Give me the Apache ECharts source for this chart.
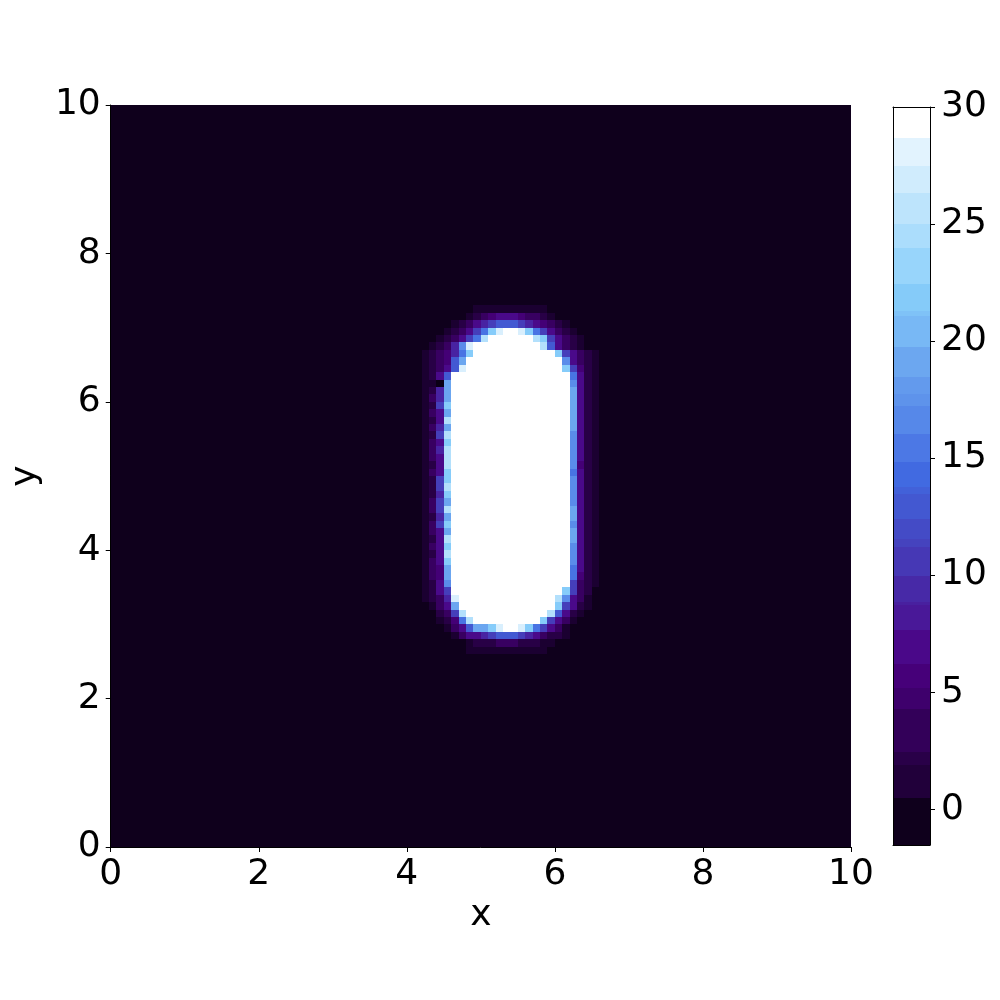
<!DOCTYPE html>
<html lang="en">
<head>
<meta charset="UTF-8">
<title>field</title>
<script src="https://cdn.jsdelivr.net/npm/echarts@6/dist/echarts.min.js"></script>
<style>
html, body { margin: 0; padding: 0; background: #fff; }
#main { width: 1000px; height: 1000px; }
</style>
</head>
<body>
<div id="main"></div>
<script type="text/javascript">
// field is 100 x 100 cells of 0.1 on [0,10] x [0,10]
var nCols = 100;
var nRows = 100;
var cellSize = 0.1;
var bgCode = '.';
// code letters used in shapeRows and the value each one stands for
var levelCodes = ['0', '.', '1', '2', '3', '4', '5', '6', '7', '8', '9', 'a', 'b', 'c', 'd', 'e', 'w'];
var levelValues = [-1.5, -1, 0.5, 2, 4, 5.5, 7, 9, 11, 13, 15, 17, 19, 22, 25, 27.5, 30];
// rows counted from the top (row 26 .. 73), columns 41 .. 67; everything else is background
var firstRow = 26;
var firstCol = 41;
var shapeRows = [
	"...........................",
	"........1111111111.........",
	".......123455543321........",
	".....1235678887654321......",
	"....123579cewwec975321.....",
	"...123579dwwwwwwdc75321....",
	"..1236aewwwwwwwwwd85321....",
	".123469cwwwwwwwwwwwc75321..",
	".12348bwwwwwwwwwwwwwa5321..",
	".12358ewwwwwwwwwwwwwc7421..",
	".1258wwwwwwwwwwwwwwww9521..",
	".110bwwwwwwwwwwwwwwwwa521..",
	".126bwwwwwwwwwwwwwwwwb521..",
	".136bwwwwwwwwwwwwwwwwb521..",
	".127cwwwwwwwwwwwwwwwwb521..",
	".135bwwwwwwwwwwwwwwwwb521..",
	".125dwwwwwwwwwwwwwwwwb521..",
	".136bwwwwwwwwwwwwwwwwb521..",
	".127dwwwwwwwwwwwwwwwwa521..",
	".135cwwwwwwwwwwwwwwwwa521..",
	".136dwwwwwwwwwwwwwwwwa521..",
	".135dwwwwwwwwwwwwwwwwa521..",
	".125dwwwwwwwwwwwwwwwwa421..",
	".135cwwwwwwwwwwwwwwww9521..",
	".127cwwwwwwwwwwwwwwwwa521..",
	".127dwwwwwwwwwwwwwwwwa521..",
	".126cwwwwwwwwwwwwwwwwa521..",
	".137bwwwwwwwwwwwwwwwwa521..",
	".137dwwwwwwwwwwwwwwwwb521..",
	".126bwwwwwwwwwwwwwwwwb521..",
	".137cwwwwwwwwwwwwwwwwa521..",
	".135bwwwwwwwwwwwwwwwwb521..",
	".125dwwwwwwwwwwwwwwwwb521..",
	".135cwwwwwwwwwwwwwwwwa521..",
	".125dwwwwwwwwwwwwwwwwa521..",
	".135cwwwwwwwwwwwwwwwwa521..",
	".134bwwwwwwwwwwwwwwww9521..",
	".134bwwwwwwwwwwwwwwww9421..",
	".125awwwwwwwwwwwwwwww7321..",
	".1257wwwwwwwwwwwwwwwc732...",
	".1236ewwwwwwwwwwwwwda531...",
	"..135bwwwwwwwwwwwwwc7521...",
	"...237dwwwwwwwwwwwd8521....",
	"...1249dwwwwwwwwwc7531.....",
	"....1358bbcewwec97531......",
	".....1355678887653221......",
	".......122233322211........",
	".......11111111111........."
];
// colour bar: range and the band edges seen on it
var barMin = -1.53;
var barMax = 30;
var barTicks = [0, 5, 10, 15, 20, 25, 30];
var barEdges = [-1.53, 0.47, 1.89, 2.45, 4.30, 5.16, 6.22, 7.65, 8.71, 8.85, 9.98, 11.19, 11.55, 12.40,
	13.46, 13.75, 14.83, 16.04, 17.24, 17.74, 18.45, 19.73, 21.08, 21.29, 22.43, 23.99, 24.99,
	26.34, 27.47, 28.68, 30];
var colorStops = ['#0b0015', '#4b0082', '#4169e1', '#87cefa', '#ffffff'];

// cells [x0, y0, value]
var cells = [];
for (var r = 0; r < nRows; r++) {
	for (var c = 0; c < nCols; c++) {
		var code = bgCode;
		var sr = r - firstRow, sc = c - firstCol;
		if (sr >= 0 && sr < shapeRows.length && sc >= 0 && sc < shapeRows[sr].length) {
			code = shapeRows[sr].charAt(sc);
		}
		cells.push([c * cellSize, (nRows - 1 - r) * cellSize, levelValues[levelCodes.indexOf(code)]]);
	}
}
// bands [lo, hi, value used for the colour]; end bands take the end colour
var bands = [];
for (var i = 0; i < barEdges.length - 1; i++) {
	var lo = barEdges[i], hi = barEdges[i + 1];
	var v = (lo + hi) / 2;
	if (i === 0) v = -1;
	if (i === barEdges.length - 2) v = hi;
	bands.push([lo, hi, v]);
}

// snap to whole pixels so neighbouring cells leave no seams
function cellShape(params, api) {
	var a = api.coord([api.value(0), api.value(1) + cellSize]);
	var b = api.coord([api.value(0) + cellSize, api.value(1)]);
	var x0 = Math.round(a[0]), x1 = Math.round(b[0]);
	var y0 = Math.round(a[1]), y1 = Math.round(b[1]);
	return {
		type: 'rect',
		shape: { x: x0, y: y0, width: x1 - x0, height: y1 - y0 },
		style: { fill: api.visual('color') }
	};
}
function bandShape(params, api) {
	var a = api.coord([0, api.value(1)]);
	var b = api.coord([1, api.value(0)]);
	var y0 = Math.round(a[1]), y1 = Math.round(b[1]);
	return {
		type: 'rect',
		shape: { x: a[0], y: y0, width: b[0] - a[0], height: y1 - y0 },
		style: { fill: api.visual('color') }
	};
}

var axisText = { fontFamily: 'DejaVu Sans', fontSize: 36, color: '#000' };
var blackLine = { show: true, onZero: false, lineStyle: { color: '#000', width: 1 } };
var chart = echarts.init(document.getElementById('main'));
var option = {
	backgroundColor: '#ffffff',
	animation: false,
	grid: [
		{ left: 110, top: 105, width: 741, height: 742, show: true, borderWidth: 0, backgroundColor: '#0f001c' },
		{ left: 893, top: 107, width: 37, height: 738 }
	],
	xAxis: [
		{
			gridIndex: 0, type: 'value', min: 0, max: 10, interval: 2,
			name: 'x', nameLocation: 'middle', nameGap: 43, nameTextStyle: axisText,
			axisLine: blackLine,
			axisTick: { show: true, length: 5, lineStyle: { color: '#000' } },
			axisLabel: Object.assign({ margin: 10, showMinLabel: true, showMaxLabel: true }, axisText),
			splitLine: { show: false }, z: 5
		},
		{ gridIndex: 1, type: 'value', min: 0, max: 1, position: 'bottom', axisLine: blackLine,
			axisTick: { show: false }, axisLabel: { show: false }, splitLine: { show: false }, z: 5 },
		{ gridIndex: 1, type: 'value', min: 0, max: 1, position: 'top', axisLine: blackLine,
			axisTick: { show: false }, axisLabel: { show: false }, splitLine: { show: false }, z: 5 }
	],
	yAxis: [
		{
			gridIndex: 0, type: 'value', min: 0, max: 10, interval: 2,
			name: 'y', nameLocation: 'middle', nameGap: 62, nameTextStyle: axisText,
			axisLine: blackLine,
			axisTick: { show: true, length: 5, lineStyle: { color: '#000' } },
			axisLabel: Object.assign({ margin: 10, showMinLabel: true, showMaxLabel: true }, axisText),
			splitLine: { show: false }, z: 5
		},
		{
			gridIndex: 1, type: 'value', min: barMin, max: barMax, position: 'right',
			axisLine: blackLine,
			axisTick: { show: true, length: 5, customValues: barTicks, lineStyle: { color: '#000' } },
			axisLabel: Object.assign({ margin: 11, customValues: barTicks }, axisText),
			splitLine: { show: false }, z: 5
		},
		{ gridIndex: 1, type: 'value', min: barMin, max: barMax, position: 'left', axisLine: blackLine,
			axisTick: { show: false }, axisLabel: { show: false }, splitLine: { show: false }, z: 5 }
	],
	visualMap: {
		type: 'continuous',
		show: false,
		min: barMin,
		max: barMax,
		dimension: 2,
		seriesIndex: [0, 1],
		inRange: { color: colorStops }
	},
	series: [
		{
			type: 'custom',
			xAxisIndex: 0, yAxisIndex: 0,
			renderItem: cellShape,
			data: cells,
			clip: true,
			progressive: 0,
			silent: true,
			z: 1
		},
		{
			type: 'custom',
			xAxisIndex: 1, yAxisIndex: 1,
			renderItem: bandShape,
			data: bands,
			clip: true,
			silent: true,
			z: 1
		}
	]
};
chart.setOption(option);
</script>
</body>
</html>
